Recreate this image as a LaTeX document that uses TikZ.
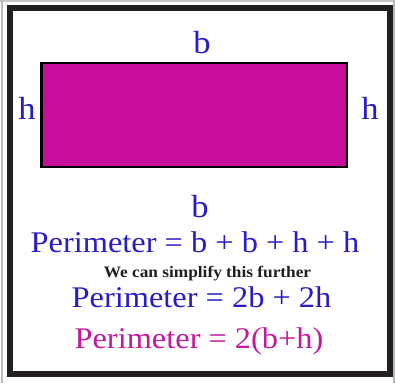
\documentclass[tikz,border=0pt]{standalone}
\usepackage{fontspec}
\setmainfont[FakeStretch=1.08]{Liberation Serif}
\definecolor{txtblue}{RGB}{40,28,198}
\definecolor{txtmag}{RGB}{196,24,160}
\definecolor{boxmag}{RGB}{198,14,154}
\definecolor{framek}{RGB}{35,31,32}
\tikzset{
  lbl/.style={anchor=base, inner sep=0pt, text=txtblue, font=\fontsize{32}{36}\selectfont},
  eqn/.style={anchor=base, inner sep=0pt, text=txtblue, font=\fontsize{30}{34}\selectfont},
  note/.style={anchor=base, inner sep=0pt, text=black!88, font=\fontsize{16}{18}\selectfont\bfseries},
}
\begin{document}
\begin{tikzpicture}[x=1pt,y=-1pt]
\useasboundingbox (0,0) rectangle (395,383);
\fill[white] (0,0) rectangle (395,383);
% outer thin gray edges
\draw[gray!45, line width=1.5pt] (0,0.75) -- (395,0.75);
\draw[gray!55, line width=1.2pt] (2,0) -- (2,383);
\draw[gray!55, line width=1.2pt] (394,0) -- (394,383);
% frame
\draw[framek, line width=6pt] (9.5,8) rectangle (390,374);
% rectangle
\node[draw=black, line width=2.5pt, fill=boxmag, minimum width=305.7pt, minimum height=104pt, inner sep=0pt, outer sep=0pt] (rect) at (194.15,115) {};
% side labels
\node[lbl] (btop) at (202,53) {b};
\node[lbl] (hleft) at (27,119.5) {h};
\node[lbl] (hright) at (370,119.5) {h};
\node[lbl] (bbot) at (200,217) {b};
% equations
\node[eqn] (eq1) at (195,252) {Perimeter = b + b + h + h};
\node[note] (nt) at (207.5,277) {We can simplify this further};
\node[eqn] (eq2) at (201.5,307) {Perimeter = 2b + 2h};
\node[eqn, text=txtmag] (eq3) at (199,348) {Perimeter = 2(b+h)};
\end{tikzpicture}
\end{document}
